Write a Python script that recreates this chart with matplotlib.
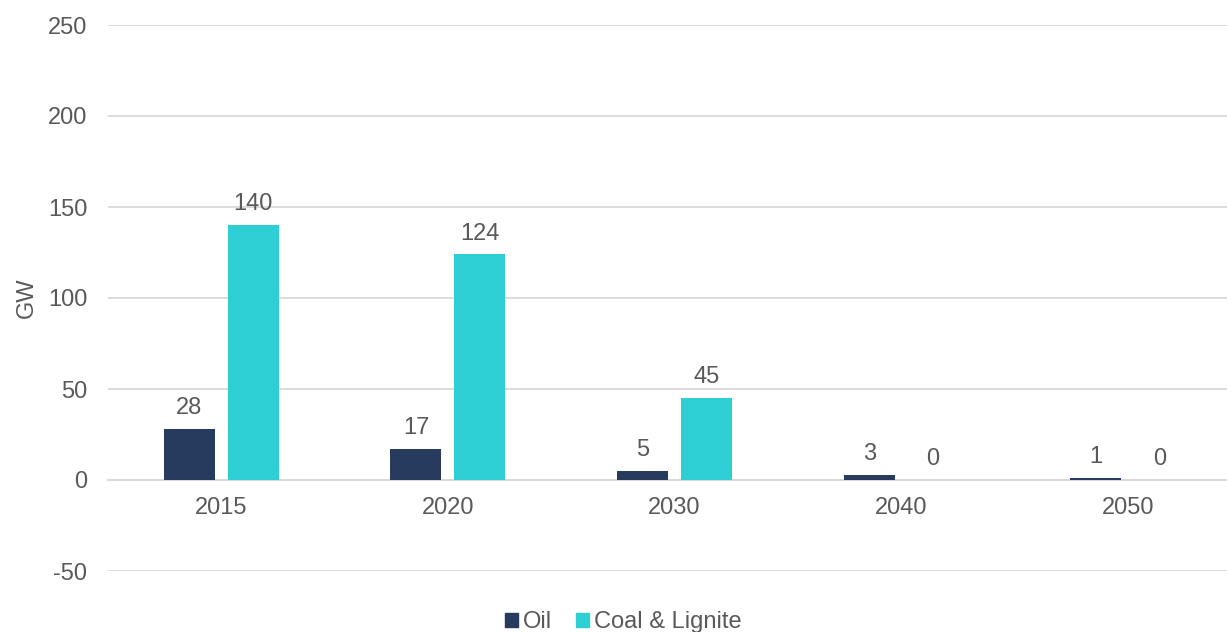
import matplotlib
matplotlib.use("Agg")
import matplotlib.pyplot as plt
import numpy as np
from matplotlib.patches import Patch

plt.rcParams['font.family'] = ['Liberation Sans', 'DejaVu Sans']
plt.rcParams['axes.unicode_minus'] = False

categories = ["2015", "2020", "2030", "2040", "2050"]
oil = [28, 17, 5, 3, 1]
coal = [140, 124, 45, 0, 0]
series_names = ["Oil", "Coal & Lignite"]
yticks = [-50, 0, 50, 100, 150, 200, 250]

c_oil = "#263B5E"
c_coal = "#2ECFD4"
txt = "#595959"
grid = "#D9D9D9"
fs = 17

W, H = 1227, 632
fig = plt.figure(figsize=(W / 100, H / 100), dpi=100)
ax = fig.add_axes([108 / W, (H - 571) / H, 1133 / W, 546 / H])

x = np.arange(len(categories))
bw = 0.225
off = 0.141
b1 = ax.bar(x - off, oil, bw, color=c_oil, zorder=3)
b2 = ax.bar(x + off, coal, bw, color=c_coal, zorder=3)

for bars, vals in ((b1, oil), (b2, coal)):
    for r, v in zip(bars, vals):
        ax.annotate(str(v), (r.get_x() + r.get_width() / 2, v),
                    xytext=(0, 7), textcoords="offset points",
                    ha="center", va="bottom", fontsize=fs, color=txt)

ax.set_xlim(-0.5, len(categories) - 0.5)
ax.set_ylim(-50, 250)
ax.set_yticks(yticks)
ax.set_xticks(x)
ax.set_xticklabels(categories)
ax.yaxis.grid(True, color=grid, linewidth=1.3, zorder=0)
ax.set_axisbelow(True)
for s in ("top", "right", "left"):
    ax.spines[s].set_visible(False)
ax.spines["bottom"].set_position(("data", 0))
ax.spines["bottom"].set_color(grid)
ax.spines["bottom"].set_linewidth(1.3)
ax.tick_params(axis="both", length=0, labelsize=fs, labelcolor=txt)
ax.tick_params(axis="y", pad=15)
ax.tick_params(axis="x", pad=12)
ax.set_ylabel("GW", fontsize=fs, color=txt, labelpad=7)

handles = [Patch(color=c_oil), Patch(color=c_coal)]
fig.legend(handles, series_names, loc="center", bbox_to_anchor=(0.508, (H - 622) / H),
           ncol=2, frameon=False, fontsize=fs, labelcolor=txt,
           handlelength=0.55, handleheight=0.55, handletextpad=0.2, columnspacing=1.0)

fig.savefig("out.png", dpi=100)
